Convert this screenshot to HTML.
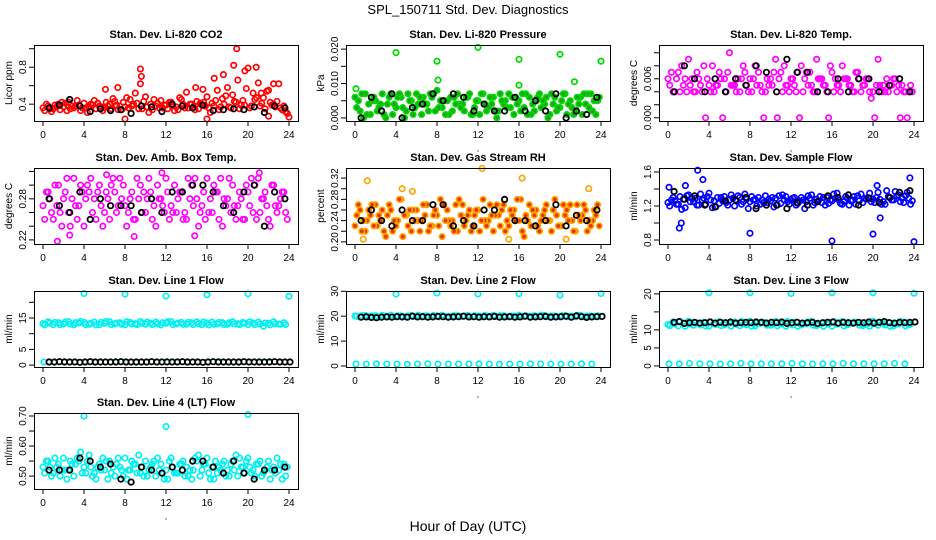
<!DOCTYPE html>
<html><head><meta charset="utf-8"><style>
html,body{margin:0;padding:0;background:#fff;}
svg{display:block;font-family:"Liberation Sans",Arial,sans-serif;}
</style></head><body>
<svg id="chart" width="936" height="540" viewBox="0 0 936 540" xmlns="http://www.w3.org/2000/svg">
<rect width="936" height="540" fill="#fff"/>
<text x="468" y="14" font-size="13" text-anchor="middle">SPL_150711  Std. Dev. Diagnostics</text>
<text x="468" y="531" font-size="14" text-anchor="middle">Hour of Day (UTC)</text>
</svg>
<script>
// ---------- data ----------
const xTicks = [0,4,8,12,16,20,24];
const blackHours = [0.6,1.6,2.6,3.6,4.6,5.6,6.6,7.6,8.6,9.6,10.6,11.6,12.6,13.6,14.6,15.6,16.6,17.6,18.6,19.6,20.6,21.6,22.6,23.6];

const co2A=[0.36,0.38,0.35,0.40,0.37,0.42,0.36,0.39,0.41,0.37,0.44,0.38,0.36,0.40,0.43,0.38,0.37,0.45,0.52,0.62,0.48,0.40,0.38,0.44,0.39,0.42,0.37,0.45,0.53,0.40,0.43,0.39,0.48,0.41,0.55,0.46,0.58,0.50,0.66,0.44,0.79,0.52,0.63,0.47,0.55,0.40,0.62,0.38];
const co2B=[0.33,0.35,0.39,0.34,0.41,0.35,0.38,0.33,0.36,0.40,0.35,0.37,0.42,0.35,0.39,0.34,0.47,0.38,0.41,0.35,0.37,0.34,0.41,0.36,0.35,0.38,0.34,0.40,0.36,0.37,0.35,0.42,0.36,0.38,0.34,0.40,0.37,0.43,0.35,0.39,0.36,0.45,0.38,0.35,0.42,0.37,0.36,0.32];
const co2C=[0.40,0.32,0.37,0.42,0.33,0.38,0.44,0.36,0.31,0.39,0.41,0.33,0.38,0.46,0.34,0.42,0.36,0.40,0.35,0.43,0.31,0.45,0.36,0.39,0.42,0.33,0.47,0.36,0.40,0.34,0.41,0.38,0.31,0.44,0.37,0.49,0.36,0.42,0.39,0.57,0.38,0.47,0.41,0.54,0.39,0.43,0.34,0.30];
const co2SpikeHours=[9.5,9.6,6.1,7.3,18.9,18.6,20.8,19.7,22.5,17.6,16.7,21.3,14.9,15.6,8,16,24,22];
const co2SpikeVals=[0.78,0.70,0.56,0.58,1.00,0.82,0.80,0.76,0.62,0.72,0.68,0.52,0.58,0.56,0.24,0.24,0.26,0.27];
const co2K=[0.36,0.39,0.45,0.38,0.32,0.35,0.33,0.34,0.30,0.38,0.37,0.32,0.40,0.38,0.36,0.39,0.33,0.34,0.35,0.34,0.37,0.31,0.38,0.36];

const prA=[.006,.002,.007,.001,.005,.004,.0,.007,.003,.006,.002,.005,.007,.001,.004,.006,.008,.003,.005,.002,.007,.004,.006,.001,.005,.007,.003,.006,.002,.004,.007,.001,.005,.003,.006,.002,.007,.004,.001,.006,.003,.007,.005,.002,.006,.004,.007,.001];
const prB=[.003,.007,.001,.005,.002,.007,.004,.001,.006,.003,.007,.001,.004,.006,.002,.007,.003,.005,.001,.006,.004,.002,.007,.003,.001,.004,.006,.002,.007,.005,.003,.006,.002,.007,.001,.005,.003,.006,.007,.002,.005,.001,.003,.006,.001,.007,.002,.005];
const prC=[.005,.000,.004,.006,.003,.001,.006,.004,.007,.000,.005,.003,.006,.004,.007,.002,.005,.001,.006,.004,.003,.006,.001,.005,.007,.002,.004,.000,.005,.003,.006,.004,.007,.001,.004,.006,.005,.000,.004,.003,.007,.004,.001,.004,.007,.003,.005,.006];
const prSpikeHours=[4,8,8.1,12,16,16,20,21.4,24,0.1];
const prSpikeVals=[.019,.0165,.011,.0205,.017,.0095,.0185,.0105,.0165,.0085];
const prK=[.000,.006,.002,.007,.000,.003,.004,.007,.005,.007,.006,.002,.004,.002,.002,.006,.002,.005,.002,.007,.000,.002,.001,.006];

const tpA=[.006,.004,.007,.005,.009,.004,.006,.008,.005,.004,.007,.006,.010,.005,.004,.007,.006,.008,.005,.004,.006,.009,.007,.005,.006,.004,.008,.007,.005,.009,.006,.004,.007,.005,.008,.006,.004,.007,.005,.006,.004,.009,.005,.004,.006,.005,.004,.004];
const tpB=[.005,.004,.004,.006,.005,.004,.005,.000,.004,.005,.006,.004,.005,.004,.006,.005,.004,.005,.004,.006,.005,.000,.004,.005,.006,.007,.004,.005,.004,.006,.005,.000,.004,.005,.006,.005,.004,.006,.005,.004,.000,.005,.004,.005,.006,.000,.004,.005];
const tpC=[.007,.006,.008,.004,.006,.007,.004,.006,.008,.005,.000,.007,.005,.006,.008,.004,.006,.007,.000,.005,.007,.006,.008,.004,.005,.000,.006,.007,.004,.006,.005,.008,.006,.004,.006,.005,.007,.004,.006,.003,.005,.004,.006,.005,.004,.005,.000,.004];
const tpK=[.004,.008,.006,.004,.006,.004,.006,.005,.008,.007,.004,.009,.007,.007,.004,.004,.006,.004,.006,.006,.004,.005,.006,.004];

const abA=[.27,.29,.25,.30,.28,.26,.31,.27,.24,.29,.28,.30,.26,.25,.29,.31,.27,.28,.25,.30,.26,.29,.24,.28,.31,.27,.26,.29,.25,.30,.28,.27,.31,.26,.29,.24,.28,.30,.27,.25,.29,.26,.31,.28,.25,.30,.27,.29];
const abB=[.25,.28,.30,.26,.29,.24,.27,.30,.28,.31,.25,.27,.29,.30,.26,.28,.24,.29,.31,.26,.28,.25,.30,.27,.29,.26,.28,.25,.31,.27,.24,.29,.26,.30,.25,.28,.31,.27,.29,.25,.27,.30,.26,.29,.24,.27,.28,.26];
const abC=[.29,.26,.27,.24,.31,.28,.25,.29,.30,.26,.29,.24,.28,.31,.27,.30,.26,.25,.28,.29,.31,.27,.28,.26,.25,.30,.29,.26,.28,.31,.26,.25,.28,.29,.31,.27,.26,.25,.28,.30,.31,.25,.28,.27,.30,.26,.29,.25];
const abSpikeHours=[1.4,8.9,14.8,2.6,11.6,21.1,6.2];
const abSpikeVals=[.218,.225,.226,.227,.318,.318,.315];
const abK=[.28,.27,.26,.29,.25,.28,.27,.27,.27,.26,.28,.26,.29,.29,.30,.30,.29,.27,.26,.29,.30,.24,.29,.28];

const rhA=[.23,.26,.22,.25,.27,.24,.21,.26,.23,.28,.25,.22,.26,.24,.27,.23,.25,.21,.26,.24,.22,.27,.25,.23,.26,.28,.24,.22,.25,.27,.23,.26,.24,.21,.27,.25,.22,.26,.24,.28,.23,.25,.27,.22,.24,.26,.23,.25];
const rhB=[.25,.22,.24,.27,.23,.26,.25,.22,.24,.21,.23,.26,.24,.27,.22,.25,.23,.27,.24,.22,.28,.23,.26,.25,.22,.24,.27,.25,.23,.22,.26,.24,.28,.25,.23,.26,.24,.27,.22,.25,.23,.26,.24,.27,.25,.22,.24,.27];
const rhC=[.27,.24,.26,.23,.25,.22,.27,.24,.28,.25,.26,.24,.22,.25,.23,.26,.28,.24,.23,.27,.25,.24,.22,.26,.24,.23,.25,.27,.26,.24,.25,.28,.22,.24,.26,.23,.25,.24,.26,.23,.27,.24,.22,.25,.27,.24,.26,.23];
const rhSpikeHours=[1.2,4.6,5.6,12.4,16.3,22.8,20.6,0.8,15];
const rhSpikeVals=[.315,.30,.295,.338,.32,.30,.205,.205,.205];
const rhK=[.24,.26,.24,.23,.26,.24,.24,.27,.27,.23,.24,.23,.26,.26,.28,.24,.24,.23,.24,.27,.23,.25,.24,.26];

const sfA=[1.24,1.30,1.22,1.28,1.33,1.25,1.21,1.29,1.35,1.26,1.23,1.31,1.27,1.20,1.30,1.34,1.25,1.28,1.22,1.32,1.26,1.29,1.23,1.31,1.27,1.21,1.30,1.25,1.33,1.28,1.24,1.30,1.26,1.35,1.22,1.29,1.27,1.32,1.24,1.30,1.28,1.36,1.25,1.31,1.27,1.33,1.24,1.29];
const sfB=[1.20,1.26,1.31,1.18,1.25,1.29,1.34,1.22,1.27,1.19,1.30,1.24,1.33,1.26,1.22,1.28,1.31,1.20,1.27,1.24,1.30,1.21,1.33,1.25,1.29,1.23,1.27,1.32,1.21,1.26,1.30,1.23,1.34,1.27,1.25,1.21,1.31,1.26,1.29,1.35,1.24,1.28,1.22,1.30,1.37,1.25,1.32,1.22];
const sfC=[1.27,1.22,1.16,1.32,1.29,1.21,1.27,1.31,1.18,1.30,1.26,1.21,1.29,1.32,1.25,1.17,1.27,1.30,1.24,1.28,1.19,1.32,1.27,1.22,1.30,1.26,1.17,1.29,1.24,1.31,1.21,1.27,1.29,1.23,1.31,1.26,1.22,1.34,1.28,1.25,1.30,1.22,1.38,1.27,1.32,1.29,1.36,1.26];
const sfSpikeHours=[1.1,1.3,8,16,20,24,2.9,3.4,23.6,0.1,1.7,20.7,20.4];
const sfSpikeVals=[.94,1.0,.88,.79,.87,.78,1.62,1.51,1.53,1.42,1.44,1.06,1.44];
const sfK=[1.37,1.28,1.32,1.21,1.19,1.26,1.27,1.30,1.17,1.21,1.21,1.17,1.24,1.21,1.25,1.32,1.30,1.33,1.21,1.29,1.24,1.30,1.36,1.38];

const l1A=[13.2,13.8,12.9,13.5,13.1,13.9,12.8,13.4,13.6,13.0,13.7,12.9,13.3,13.8,13.1,13.5,12.9,13.6,13.2,13.9,13.0,13.4,13.7,12.8,13.3,13.9,13.1,13.6,13.0,13.5,13.8,12.9,13.4,13.7,13.1,13.5,13.0,13.8,13.2,13.6,12.9,13.4,13.7,12.4,13.3,13.8,13.1,13.5];
const l1B=[12.8,13.4,13.6,12.9,13.7,13.1,13.5,13.9,12.9,13.3,12.8,13.6,13.9,12.9,13.4,13.0,13.8,13.1,12.9,13.3,13.7,12.9,13.1,13.5,13.8,12.9,13.4,13.0,13.6,12.9,13.2,13.7,12.8,13.0,13.6,12.9,13.5,13.1,12.9,13.3,13.8,12.9,13.1,13.4,12.8,13.2,13.0,12.9];
const l1Low=[1.0,0.9,1.1,1.0,1.0,0.9,1.0,1.1,1.0,0.9,1.0,1.0,1.1,1.0,0.9,1.0,1.0,1.1,1.0,0.9,1.0,1.0,1.1,1.0];
const l1SpikeHours=[4,8,12,16,20,24];
const l1SpikeVals=[22.8,22.6,22.0,22.4,22.7,21.9];
const l1K=[1.0,1.0,1.1,1.0,1.0,1.0,0.9,1.0,1.1,1.0,1.0,1.0,1.0,1.0,1.1,1.0,1.0,1.0,1.0,1.0,1.1,1.0,1.0,1.0,1.0,1.0,1.1,1.0,1.0,1.0,0.9,1.0,1.1,1.0,1.0,1.0,1.0,1.0,1.1,1.0,1.0,1.0,1.0,1.0,1.1,1.0,1.0,1.0];

const l2A=[20.1,19.8,20.3,19.9,20.2,19.7,20.0,20.4,19.8,20.1,19.9,20.3,20.0,19.7,20.2,19.9,20.1,20.4,19.8,20.0,20.2,19.9,20.3,19.8,20.1,19.7,20.0,20.3,19.9,20.2,19.8,20.1,20.4,19.9,20.0,20.2,19.8,20.3,19.9,20.1,19.7,20.2,20.0,19.8,20.3,19.9,20.1,20.0];
const l2B=[19.9,20.2,19.8,20.1,19.6,20.3,19.9,19.8,20.2,19.7,20.1,19.9,20.4,20.1,19.8,20.3,19.7,20.0,19.9,20.2,19.8,20.1,19.7,20.2,19.9,20.3,19.8,20.0,20.2,19.7,20.1,19.9,19.8,20.2,19.9,20.0,20.4,19.8,20.1,19.9,20.2,19.8,20.0,20.3,19.9,20.1,19.8,20.2];
const l2Low=[0.8,0.8,0.9,0.8,0.8,0.7,0.8,0.9,0.8,0.8,0.8,0.8,0.9,0.8,0.7,0.8,0.8,0.9,0.8,0.8,0.8,0.8,0.9,0.8];
const l2SpikeHours=[4,8,12,16,20,24];
const l2SpikeVals=[28.9,29.3,28.9,29.0,28.5,29.1];
const l2K=[19.6,19.7,19.5,19.4,19.6,19.7,19.6,19.8,19.7,19.6,20.0,19.7,19.8,19.6,19.7,19.9,19.8,19.6,19.7,19.8,20.0,19.7,19.8,19.6,19.8,19.7,19.9,19.6,19.7,19.8,19.6,19.7,20.0,19.6,19.7,19.8,19.9,19.6,19.7,19.8,20.0,19.6,20.1,19.8,19.5,19.7,19.8,19.9];

const l3A=[11.5,12.2,11.1,11.8,12.4,11.3,11.9,12.1,11.0,11.7,12.3,11.4,11.9,12.2,11.2,11.6,12.4,11.1,11.8,12.0,11.3,12.3,11.6,11.0,11.9,12.2,11.4,11.7,12.4,11.2,11.8,12.1,11.0,11.6,12.3,11.4,11.9,12.0,11.2,11.7,12.4,11.3,11.8,12.1,11.1,11.6,12.2,11.4];
const l3B=[11.2,11.7,12.3,11.0,11.6,12.0,11.4,11.1,12.2,11.5,11.2,11.9,11.0,11.6,12.3,11.4,11.0,11.9,12.2,11.3,11.5,11.1,11.9,12.3,11.4,11.0,11.8,12.2,11.3,11.5,11.0,11.6,12.3,11.9,11.1,11.7,12.2,11.3,11.5,11.0,11.8,12.2,11.4,11.0,11.7,12.3,11.1,11.6];
const l3Low=[0.6,0.6,0.7,0.6,0.6,0.5,0.6,0.7,0.6,0.6,0.6,0.6,0.7,0.6,0.5,0.6,0.6,0.7,0.6,0.6,0.6,0.6,0.7,0.6];
const l3SpikeHours=[4,8,12,16,20,24];
const l3SpikeVals=[20.3,20.3,20.1,20.3,20.3,20.2];
const l3K=[12.1,12.3,11.8,12.0,12.1,11.9,12.0,12.2,11.9,12.1,12.0,12.2,11.9,12.0,12.1,12.0,12.2,12.1,11.9,12.1,12.0,12.2,11.8,12.0,12.1,11.9,12.0,12.1,11.8,12.0,12.1,12.2,11.9,12.1,12.0,11.9,12.1,12.0,12.2,11.9,12.1,12.3,12.0,11.9,12.1,12.0,12.1,12.2];

const l4A=[.53,.55,.51,.54,.56,.52,.50,.55,.53,.57,.51,.54,.52,.55,.50,.53,.56,.52,.54,.51,.55,.53,.50,.54,.52,.56,.51,.54,.53,.49,.55,.52,.56,.53,.51,.54,.52,.55,.50,.53,.56,.52,.54,.51,.55,.53,.52,.54];
const l4B=[.51,.53,.56,.50,.52,.55,.54,.58,.51,.53,.49,.52,.55,.51,.54,.52,.49,.55,.51,.53,.50,.54,.56,.51,.49,.53,.51,.55,.50,.52,.57,.54,.51,.49,.53,.55,.50,.52,.56,.51,.53,.50,.55,.52,.49,.51,.54,.50];
const l4C=[.55,.50,.53,.52,.49,.54,.56,.51,.55,.50,.53,.56,.49,.53,.56,.50,.52,.54,.57,.50,.52,.55,.52,.49,.55,.51,.54,.50,.52,.56,.50,.54,.49,.55,.52,.50,.54,.57,.53,.55,.51,.54,.50,.53,.52,.56,.49,.53];
const l4SpikeHours=[4,12,20];
const l4SpikeVals=[.70,.665,.705];
const l4K=[.52,.52,.52,.56,.55,.53,.54,.49,.48,.53,.52,.51,.53,.52,.55,.55,.53,.51,.55,.51,.49,.52,.52,.53];

// ---------- drawing ----------
const NS='http://www.w3.org/2000/svg';
const svg=document.getElementById('chart');
const COLS=[34,346,659], ROWS=[45,168,291,413], BW=264, BH=76;
function mk(tag,attrs,parent){const e=document.createElementNS(NS,tag);for(const k in attrs)e.setAttribute(k,attrs[k]);(parent||svg).appendChild(e);return e;}
function denseHours(n,off){const h=[];for(let i=0;i<n;i++)h.push(i*24/n+off);return h;}

function panel(name,col,row,title,ylab,ymin,ymax,yTicks,yLabels,series){
  const x0=COLS[col], y0=ROWS[row];
  const g=mk('g',{});
  
  
  const X=h=>x0+9+h*10.25;
  const Y=v=>y0+BH-(v-ymin)/(ymax-ymin)*BH;
  series.forEach(s=>{
    const sg=mk('g',{fill:s.fill||'none',stroke:s.color,'stroke-width':s.color==='#000'?1.8:1.7},g);
    
    
    s.vals.forEach((v,i)=>{
      const c=mk('circle',{cx:X(s.hours[i]).toFixed(1),cy:Y(v).toFixed(1),r:2.7},sg);
      
      
    });
  });
  const box=mk('rect',{x:x0+0.5,y:y0+0.5,width:BW,height:BH,fill:'none',stroke:'#000','stroke-width':1},g);
  
  
  const t=mk('text',{x:x0+BW/2,y:y0-7,'font-size':11,'font-weight':'bold','text-anchor':'middle'},g);
  t.textContent=title;
  
  
  const xa=mk('g',{},g);
  
  
  mk('line',{x1:X(0),x2:X(24),y1:y0+BH+0.5,y2:y0+BH+0.5,stroke:'#000'},xa);
  xTicks.forEach(h=>{
    mk('line',{x1:X(h),x2:X(h),y1:y0+BH,y2:y0+BH+5,stroke:'#000'},xa);
    const tl=mk('text',{x:X(h),y:y0+BH+17,'font-size':10,'text-anchor':'middle'},xa);
    tl.textContent=h;
  });
  mk('circle',{cx:X(12),cy:y0+BH+30,r:0.6,fill:'#000'},xa);
  const ya=mk('g',{},g);
  
  
  mk('line',{x1:x0+0.5,x2:x0+0.5,y1:Y(yTicks[0]),y2:Y(yTicks[yTicks.length-1]),stroke:'#000'},ya);
  yTicks.forEach((v,i)=>{
    const yy=Y(v);
    mk('line',{x1:x0-5,x2:x0,y1:yy,y2:yy,stroke:'#000'},ya);
    if(yLabels[i]){
      const tl=mk('text',{x:x0-8,y:yy,'font-size':10,'text-anchor':'middle',transform:`rotate(-90 ${x0-8} ${yy})`},ya);
      tl.textContent=yLabels[i];
    }
  });
  const yl=mk('text',{x:x0-22,y:y0+BH/2,'font-size':10,'text-anchor':'middle',transform:`rotate(-90 ${x0-22} ${y0+BH/2})`},g);
  yl.textContent=ylab;
  
  
}
function dense(color,arrs,spH,spV,black,blackH,low,fill){
  const s=[];
  const offs=[0,1/6,1/3];
  arrs.forEach((a,i)=>s.push({label:'series-'+i,color,fill,hours:denseHours(a.length,offs[i]),vals:a}));
  if(low)s.push({label:'low-series',color,hours:denseHours(low.length,0.1),vals:low});
  if(spH)s.push({label:'outliers',color,hours:spH,vals:spV});
  s.push({label:'black-series',color:'#000',hours:blackH||blackHours,vals:black});
  return s;
}
const RED='#ff0000',GRN='#00d800',MAG='#ff00ff',BLU='#0000ff',CYN='#00f0f0',ORG='#ffa500';
panel('co2',0,0,'Stan. Dev. Li-820 CO2','Licor ppm',0.218,1.04,[0.4,0.6,0.8,1.0],['0.4','','0.8',''],dense(RED,[co2A,co2B,co2C],co2SpikeHours,co2SpikeVals,co2K));
panel('pressure',1,0,'Stan. Dev. Li-820 Pressure','kPa',-0.0009,0.0212,[0,0.005,0.01,0.015,0.02],['0.000','','0.010','','0.020'],dense(GRN,[prA,prB,prC],prSpikeHours,prSpikeVals,prK,null,null,'#20a020'));
panel('temp',2,0,'Stan. Dev. Li-820 Temp.','degrees C',-0.0005,0.0112,[0,0.002,0.004,0.006,0.008,0.010],['0.000','','','0.006','',''],dense(MAG,[tpA,tpB,tpC],null,null,tpK));
panel('amb-box',0,1,'Stan. Dev. Amb. Box Temp.','degrees C',0.214,0.325,[0.22,0.24,0.26,0.28,0.30,0.32],['0.22','','','0.28','',''],dense(MAG,[abA,abB,abC],abSpikeHours,abSpikeVals,abK));
panel('rh',1,1,'Stan. Dev. Gas Stream RH','percent',0.196,0.339,[0.20,0.22,0.24,0.26,0.28,0.30,0.32],['0.20','','0.24','','0.28','','0.32'],dense(ORG,[rhA,rhB,rhC],rhSpikeHours,rhSpikeVals,rhK,null,null,'#e83000'));
panel('sample-flow',2,1,'Stan. Dev. Sample Flow','ml/min',0.753,1.647,[0.8,1.0,1.2,1.4,1.6],['0.8','','1.2','','1.6'],dense(BLU,[sfA,sfB,sfC],sfSpikeHours,sfSpikeVals,sfK));
panel('line1',0,2,'Stan. Dev. Line 1 Flow','ml/min',-0.6,23.6,[0,5,10,15,20],['0','5','','15',''],dense(CYN,[l1A,l1B],l1SpikeHours,l1SpikeVals,l1K,denseHours(48,0.6),l1Low));
panel('line2',1,2,'Stan. Dev. Line 2 Flow','ml/min',-0.4,30.1,[0,10,20,30],['0','10','20','30'],dense(CYN,[l2A,l2B],l2SpikeHours,l2SpikeVals,l2K,denseHours(48,0.6),l2Low));
panel('line3',2,2,'Stan. Dev. Line 3 Flow','ml/min',-0.3,20.8,[0,5,10,15,20],['0','5','10','','20'],dense(CYN,[l3A,l3B],l3SpikeHours,l3SpikeVals,l3K,denseHours(48,0.6),l3Low));
panel('line4',0,3,'Stan. Dev. Line 4 (LT) Flow','ml/min',0.457,0.71,[0.50,0.55,0.60,0.65,0.70],['0.50','','0.60','','0.70'],dense(CYN,[l4A,l4B,l4C],l4SpikeHours,l4SpikeVals,l4K));
</script>
</body></html>
